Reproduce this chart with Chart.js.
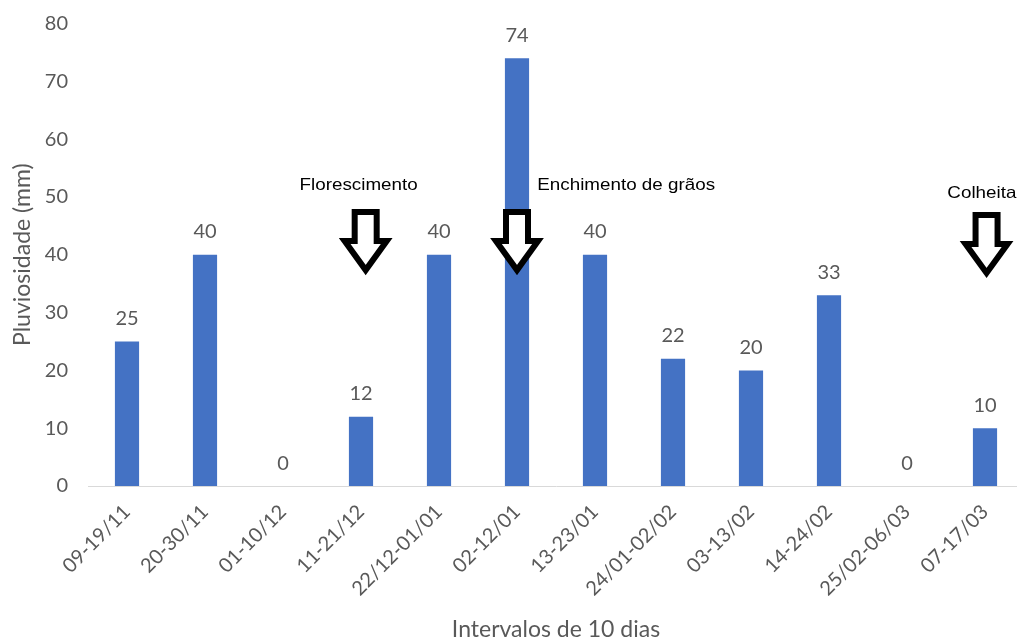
<!DOCTYPE html>
<html>
<head>
<meta charset="utf-8">
<script src="https://cdn.jsdelivr.net/npm/chart.js@4.4.1/dist/chart.umd.min.js"></script>
<style>
  html, body { margin: 0; padding: 0; background: #ffffff; overflow: hidden; }
  #wrap { position: relative; width: 1024px; height: 644px; }
</style>
</head>
<body>
<div id="wrap"><canvas id="chart"></canvas></div>
<script>
// Rainfall per 10-day interval of the growing season
const intervals = ['09-19/11', '20-30/11', '01-10/12', '11-21/12', '22/12-01/01', '02-12/01',
                   '13-23/01', '24/01-02/02', '03-13/02', '14-24/02', '25/02-06/03', '07-17/03'];
const rainfall = [25, 40, 0, 12, 40, 74, 40, 22, 20, 33, 0, 10];
const yTicks = [0, 10, 20, 30, 40, 50, 60, 70, 80];

// Crop stages marked with arrows (category position, text / arrow heights in mm)
const stageNames = ['Florescimento', 'Enchimento de grãos', 'Colheita'];
const stageArrowAt = [3.06, 5, 11.02];
const stageTextAt = [2.97, 5.26, 10.96];
const stageTextAlign = ['center', 'left', 'center'];
const stageTextY = [51.2, 51.2, 49.8];
const stageArrowTop = [47.9, 47.9, 47.4];

const GREY = '#595959';
const TICK_FONT = { family: 'Lato', size: 20 };
const TITLE_FONT = { family: 'Lato', size: 23 };

// Value labels above each bar
const valueLabels = {
  id: 'valueLabels',
  afterDatasetsDraw(chart) {
    const { ctx } = chart;
    const meta = chart.getDatasetMeta(0);
    ctx.save();
    ctx.font = '20px Lato';
    ctx.fillStyle = GREY;
    ctx.textAlign = 'center';
    ctx.textBaseline = 'alphabetic';
    meta.data.forEach((bar, i) => {
      ctx.fillText(String(rainfall[i]), bar.x, bar.y - 16.5);
    });
    ctx.restore();
  }
};

// Stage names and hollow down arrows
const stageMarks = {
  id: 'stageMarks',
  afterDraw(chart) {
    const { ctx, scales: { x, y } } = chart;
    ctx.save();
    stageNames.forEach((name, i) => {
      // text, slightly widened like the original annotation boxes
      const tx = x.getPixelForValue(stageTextAt[i]);
      const ty = y.getPixelForValue(stageTextY[i]);
      ctx.save();
      ctx.translate(tx, ty);
      ctx.scale(1.14, 1);
      ctx.font = '16.5px "Liberation Sans", Arial, sans-serif';
      ctx.fillStyle = '#000000';
      ctx.textAlign = stageTextAlign[i];
      ctx.textBaseline = 'alphabetic';
      ctx.fillText(name, 0, 0);
      ctx.restore();

      // arrow
      const ax = x.getPixelForValue(stageArrowAt[i]);
      const top = y.getPixelForValue(stageArrowTop[i]) + 3;
      const shaft = 11, head = 21, shaftLen = 29, headLen = 29;
      ctx.beginPath();
      ctx.moveTo(ax - shaft, top);
      ctx.lineTo(ax + shaft, top);
      ctx.lineTo(ax + shaft, top + shaftLen);
      ctx.lineTo(ax + head, top + shaftLen);
      ctx.lineTo(ax, top + shaftLen + headLen);
      ctx.lineTo(ax - head, top + shaftLen);
      ctx.lineTo(ax - shaft, top + shaftLen);
      ctx.closePath();
      ctx.fillStyle = '#ffffff';
      ctx.fill();
      ctx.lineWidth = 6;
      ctx.lineJoin = 'miter';
      ctx.strokeStyle = '#000000';
      ctx.stroke();
    });
    ctx.restore();
  }
};

new Chart(document.getElementById('chart'), {
  type: 'bar',
  data: {
    labels: intervals,
    datasets: [{
      data: rainfall,
      backgroundColor: '#4472C4',
      borderWidth: 0,
      barPercentage: 1,
      categoryPercentage: 0.31
    }]
  },
  options: {
    responsive: true,
    maintainAspectRatio: false,
    animation: false,
    layout: { padding: { top: 23.5, right: 0, bottom: 0, left: 0 } },
    plugins: { legend: { display: false }, tooltip: { enabled: false } },
    scales: {
      x: {
        offset: true,
        grid: { display: false, drawTicks: false },
        border: { display: true, color: '#D9D9D9', width: 1 },
        ticks: {
          color: GREY, font: TICK_FONT, maxRotation: 45, minRotation: 45,
          autoSkip: false, padding: 14
        },
        title: {
          display: true, text: 'Intervalos de 10 dias', color: GREY,
          font: TITLE_FONT, padding: { top: 0, bottom: 0.5 }
        },
        afterFit(scale) { scale.height = 158; }
      },
      y: {
        min: 0, max: 80,
        afterBuildTicks(scale) { scale.ticks = yTicks.map(v => ({ value: v })); },
        grid: { display: false, drawTicks: false },
        border: { display: false },
        ticks: { color: GREY, font: TICK_FONT, padding: 20 },
        title: {
          display: true, text: 'Pluviosidade (mm)', color: GREY,
          font: TITLE_FONT, padding: { top: 8.5, bottom: 0 }
        },
        afterFit(scale) {
          scale.width = 88;
          // the label gap is horizontal only; keep the plot top at the layout padding
          scale.paddingTop = 0;
          scale.paddingBottom = 0;
        }
      }
    }
  },
  plugins: [valueLabels, stageMarks]
});
</script>
</body>
</html>
